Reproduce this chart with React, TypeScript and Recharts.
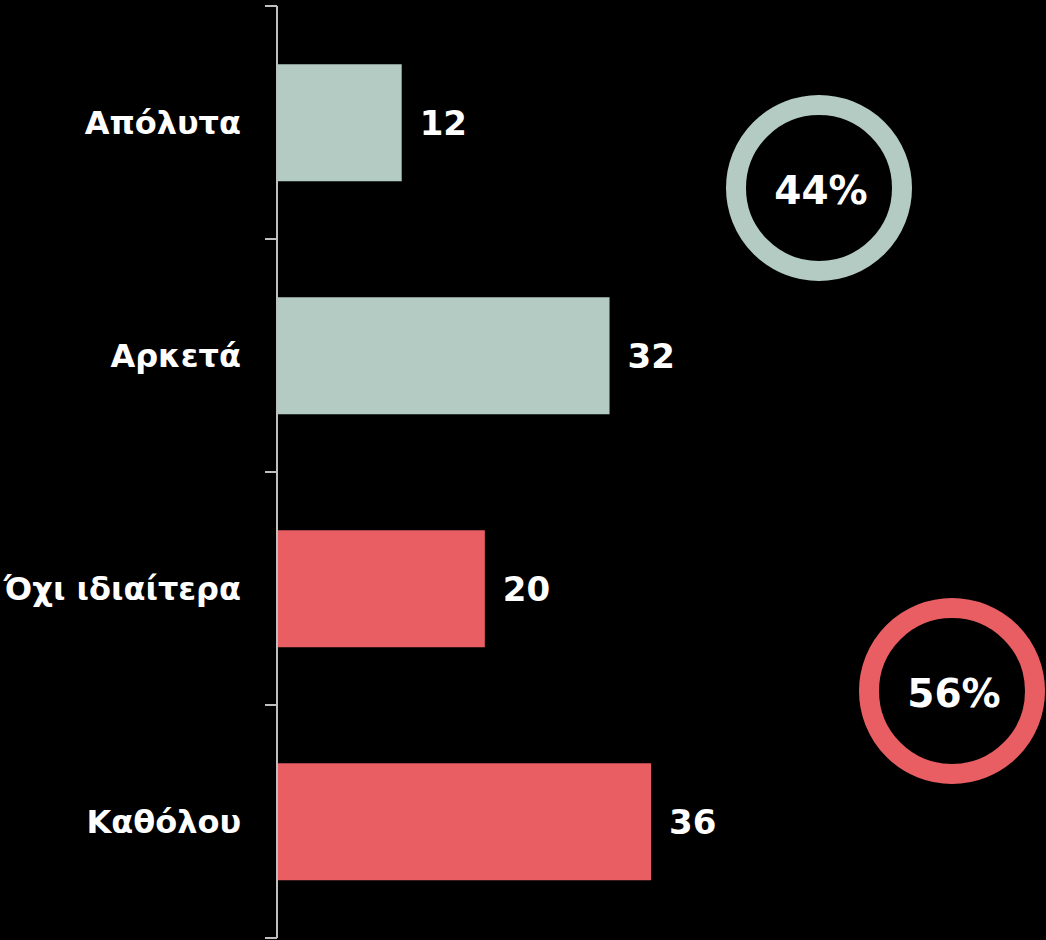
import React from "react";
import { BarChart, Bar, XAxis, YAxis, Cell, LabelList } from "recharts";

const categories = ["Απόλυτα", "Αρκετά", "Όχι ιδιαίτερα", "Καθόλου"];
const values = [12, 32, 20, 36];
const barColors = ["#b3cbc2", "#b3cbc2", "#e85e62", "#e85e62"];

// groups: first two answers vs last two
const groupColors = ["#b3cbc2", "#e85e62"];
const groupShares = [values[0] + values[1], values[2] + values[3]];

const data = categories.map((name, i) => ({ name, value: values[i] }));

const FONT = "'DejaVu Sans', sans-serif";

const App = () => {
  return (
    <div
      style={{
        position: "absolute",
        left: 0,
        top: 0,
        width: 1046,
        height: 940,
        background: "#000",
        overflow: "hidden",
      }}
    >
      <BarChart
        width={1046}
        height={940}
        data={data}
        layout="vertical"
        margin={{ top: 6, right: 0, bottom: 2, left: 0 }}
        barCategoryGap="25%"
      >
        <XAxis type="number" domain={[0, 74]} hide />
        <YAxis
          type="category"
          dataKey="name"
          width={277}
          axisLine={{ stroke: "#bfbfbf", strokeWidth: 2 }}
          tickLine={false}
          tickSize={12}
          tickMargin={24}
          tick={{ fill: "#ffffff", fontSize: 32, fontWeight: 700, fontFamily: FONT }}
        />
        <Bar dataKey="value" isAnimationActive={false}>
          {data.map((d, i) => (
            <Cell key={d.name} fill={barColors[i]} />
          ))}
          <LabelList
            dataKey="value"
            position="right"
            offset={18}
            fill="#ffffff"
            style={{ fontSize: 34, fontWeight: 700, fontFamily: FONT }}
          />
        </Bar>
      </BarChart>
      {/* axis ticks between categories */}
      <svg
        width={1046}
        height={940}
        style={{ position: "absolute", left: 0, top: 0, pointerEvents: "none" }}
      >
        {[0, 1, 2, 3, 4].map((i) => {
          const y = 6 + (i * 932) / 4;
          return <line key={i} x1={265} x2={277} y1={y} y2={y} stroke="#bfbfbf" strokeWidth={2} />;
        })}
        {groupShares.map((s, i) => {
          const cx = i === 0 ? 819 : 952;
          const cy = i === 0 ? 188 : 691;
          return (
            <g key={i}>
              <circle cx={cx} cy={cy} r={83} fill="none" stroke={groupColors[i]} strokeWidth={20} />
              <text
                x={cx + 2}
                y={cy + 2}
                textAnchor="middle"
                dominantBaseline="central"
                fill="#ffffff"
                fontSize={39}
                fontWeight={700}
                fontFamily={FONT}
              >
                {s}%
              </text>
            </g>
          );
        })}
      </svg>
    </div>
  );
};

export default App;
